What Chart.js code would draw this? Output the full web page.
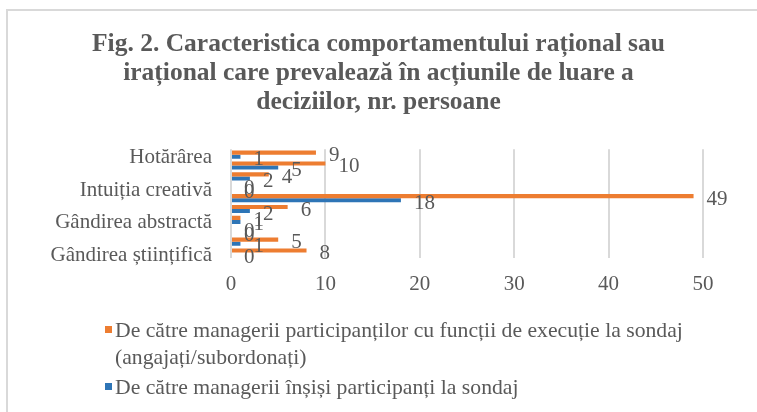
<!DOCTYPE html>
<html lang="ro">
<head>
<meta charset="utf-8">
<script src="https://cdn.jsdelivr.net/npm/chart.js@4.4.1/dist/chart.umd.min.js"></script>
<style>
    html, body { margin: 0; padding: 0; background: #fff; }
    #wrap { position: relative; width: 757px; height: 412px; overflow: hidden; }
    #frame { position: absolute; left: 6px; top: 9px; width: 800px; height: 500px; border: 2px solid #d9d9d9; box-sizing: border-box; }
    #sales-chart { position: absolute; left: 0; top: 0; }
    #legend { position: absolute; left: 101px; top: 317px; font-family: "Liberation Serif", serif; font-size: 21.7px; color: #595959; }
    .legend-item { position: relative; padding-left: 14px; width: 600px; line-height: 27px; }
    .legend-item + .legend-item { margin-top: 3px; }
    .legend-box { position: absolute; left: 4px; top: 9px; width: 7px; height: 7px; }
</style>
</head>
<body>
<div id="wrap">
    <div id="frame"></div>
    <canvas id="sales-chart" width="757" height="412"></canvas>
    <div id="legend"></div>
</div>
<script>
// categorii, de sus in jos
const categories = ['Hotărârea', '', '', 'Intuiția creativă', '', '', 'Gândirea abstractă', '', '', 'Gândirea științifică'];
// subordonati
const executantValues = [9, 10, 4, 0, 49, 6, 1, 0, 5, 8];
// managerii insisi
const managerValues = [1, 5, 2, 0, 18, 2, 1, 0, 1, 0];
const xTicks = [0, 10, 20, 30, 40, 50];

const seriesNames = [
    'De către managerii participanților cu funcții de execuție la sondaj (angajați/subordonați)',
    'De către managerii înșiși participanți la sondaj'
];
const seriesColors = ['#ED7D31', '#2E75B6'];

const textColor = '#595959';
const serif = '"Liberation Serif", "Times New Roman", serif';

// etichetele cu valori la capatul barelor
const valueLabels = {
    id: 'valueLabels',
    afterDatasetsDraw(chart) {
        const ctx = chart.ctx;
        ctx.save();
        ctx.font = '21px ' + serif;
        ctx.fillStyle = textColor;
        ctx.textAlign = 'left';
        ctx.textBaseline = 'middle';
        chart.data.datasets.forEach((ds, i) => {
            const meta = chart.getDatasetMeta(i);
            meta.data.forEach((bar, j) => {
                ctx.fillText(String(ds.data[j]), bar.x + 13, bar.y + 3);
            });
        });
        ctx.restore();
    }
};

const ctx = document.getElementById('sales-chart').getContext('2d');
const chart = new Chart(ctx, {
    type: 'bar',
    data: {
        labels: categories,
        datasets: [
            { label: seriesNames[0], data: executantValues, backgroundColor: seriesColors[0] },
            { label: seriesNames[1], data: managerValues, backgroundColor: seriesColors[1] }
        ]
    },
    options: {
        indexAxis: 'y',
        responsive: false,
        animation: false,
        categoryPercentage: 0.75,
        barPercentage: 1.0,
        layout: { padding: { top: 16, left: 6, right: 6, bottom: 114 } },
        plugins: {
            legend: { display: false },
            tooltip: { enabled: false },
            title: {
                display: true,
                text: [
                    'Fig. 2. Caracteristica comportamentului rațional sau',
                    'irațional care prevalează în acțiunile de luare a',
                    'deciziilor, nr. persoane'
                ],
                color: textColor,
                font: { family: serif, size: 25.5, weight: 'bold', lineHeight: 1.14 },
                padding: { top: 14, bottom: 32 }
            }
        },
        scales: {
            x: {
                min: 0,
                max: 50,
                afterBuildTicks: scale => { scale.ticks = xTicks.map(v => ({ value: v })); },
                afterFit: scale => {
                    scale.height = 40;
                    // spatiu la dreapta pentru eticheta 49
                    scale.paddingRight = 54;
                },
                grid: { color: '#d9d9d9', lineWidth: 2, drawTicks: false },
                border: { display: false },
                ticks: { color: textColor, font: { family: serif, size: 21 }, padding: 14 }
            },
            y: {
                grid: { display: false },
                border: { display: false },
                afterFit: scale => { scale.width = 225; },
                ticks: { color: textColor, font: { family: serif, size: 21 }, autoSkip: false, padding: 11, labelOffset: 3 }
            }
        }
    },
    plugins: [valueLabels]
});

// legenda
const legend = document.getElementById('legend');
chart.data.datasets.forEach(ds => {
    const item = document.createElement('div');
    item.className = 'legend-item';
    item.innerHTML = `<span class="legend-box" style="background:${ds.backgroundColor}"></span>${ds.label}`;
    legend.appendChild(item);
});
</script>
</body>
</html>
